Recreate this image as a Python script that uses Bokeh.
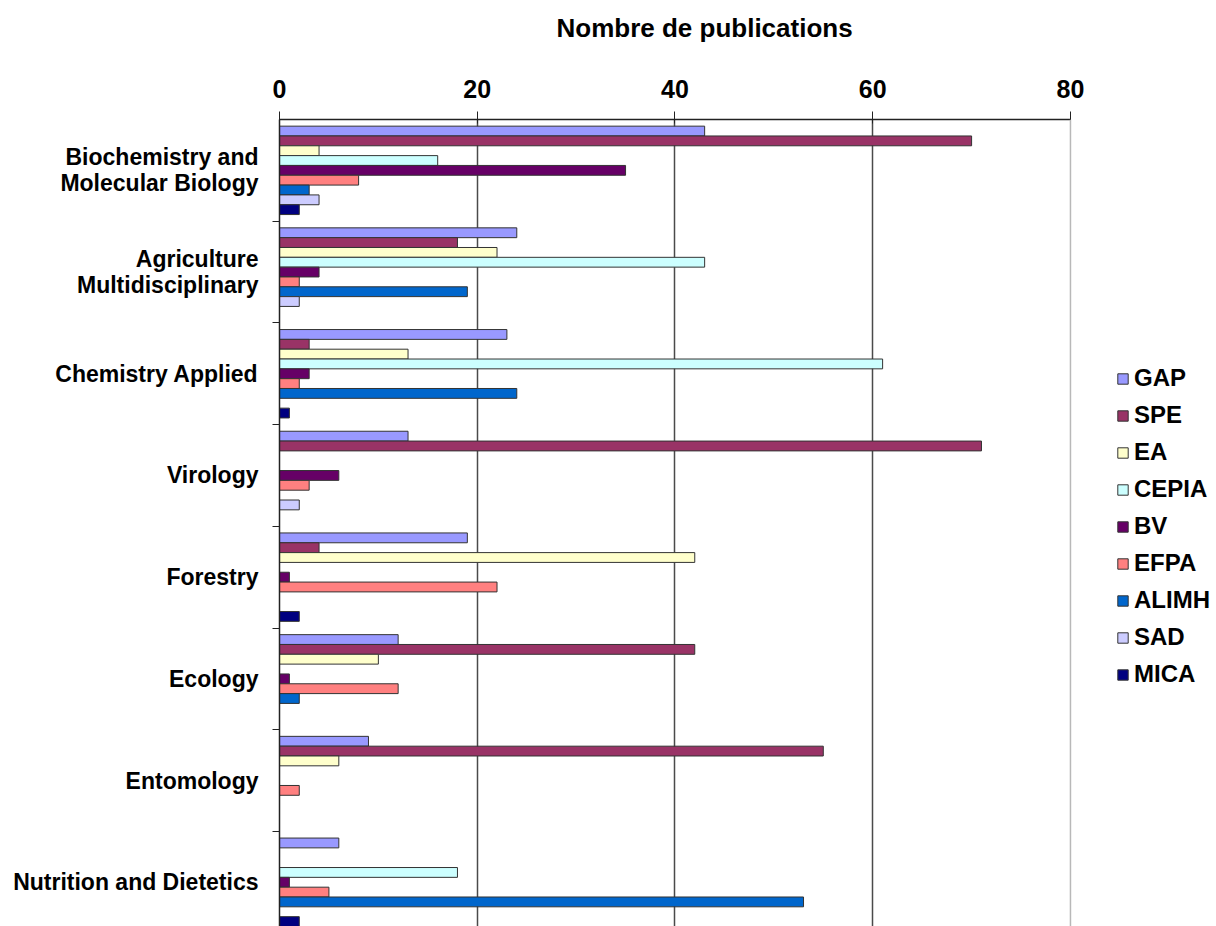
from bokeh.plotting import figure
from bokeh.models import ColumnDataSource, Range1d, FixedTicker, Span, Legend, LegendItem
from bokeh.embed import file_html
from bokeh.resources import INLINE

categories = ["Biochemistry and\nMolecular Biology", "Agriculture\nMultidisciplinary",
              "Chemistry Applied", "Virology", "Forestry", "Ecology", "Entomology",
              "Nutrition and Dietetics"]
series = ["GAP", "SPE", "EA", "CEPIA", "BV", "EFPA", "ALIMH", "SAD", "MICA"]
colors = ["#9999FF", "#993366", "#FFFFCC", "#CCFFFF", "#660066", "#FF8080",
          "#0066CC", "#CCCCFF", "#000080"]
title_text = "Nombre de publications"

GAP = [43, 24, 23, 13, 19, 12, 9, 6]
SPE = [70, 18, 3, 71, 4, 42, 55, 0]
EA = [4, 22, 13, 0, 42, 10, 6, 0]
CEPIA = [16, 43, 61, 0, 0, 0, 0, 18]
BV = [35, 4, 3, 6, 1, 1, 0, 1]
EFPA = [8, 2, 2, 3, 22, 12, 2, 5]
ALIMH = [3, 19, 24, 0, 0, 2, 0, 53]
SAD = [4, 2, 0, 2, 0, 0, 0, 0]
MICA = [2, 0, 1, 0, 2, 0, 0, 2]
values = [GAP, SPE, EA, CEPIA, BV, EFPA, ALIMH, SAD, MICA]

FONT = "Liberation Sans"
n_cat = len(categories)
n_ser = len(series)
bar_h = 0.0966
pad = (1 - n_ser * bar_h) / 2

W, H = 1216, 926
LEFT, TOP = 279, 119

p = figure(width=W, height=H, output_backend="svg", toolbar_location=None,
           x_range=Range1d(0, 94.77), y_range=Range1d(7.935, 0),
           x_axis_location="above", min_border_left=LEFT, min_border_right=0,
           min_border_top=TOP, min_border_bottom=0)
p.outline_line_color = None
p.background_fill_color = "white"
p.border_fill_color = "white"

items = []
for j, (name, vals, col) in enumerate(zip(series, values, colors)):
    ys = [i + pad + (j + 0.5) * bar_h for i in range(n_cat)]
    src = ColumnDataSource(dict(y=ys, v=vals))
    r = p.hbar(y="y", right="v", left=0, height=bar_h, source=src,
               fill_color=col, line_color="#333333", line_width=1)
    items.append(LegendItem(label=name, renderers=[r]))

# grid
p.xgrid.ticker = FixedTicker(ticks=[20, 40, 60])
p.xgrid.grid_line_color = "#4a4a4a"
p.xgrid.grid_line_width = 1.5
p.ygrid.grid_line_color = None
p.add_layout(Span(location=80, dimension="height", line_color="#b8b8b8", line_width=1.5))

# top axis
xa = p.xaxis[0]
xa.ticker = FixedTicker(ticks=[0, 20, 40, 60, 80])
xa.bounds = (0, 80)
xa.axis_line_color = "#222222"
xa.axis_line_width = 1.5
xa.major_tick_out = 8
xa.major_tick_in = 4
xa.major_tick_line_color = "#222222"
xa.minor_tick_line_color = None
xa.major_label_standoff = 14
xa.major_label_text_font = FONT
xa.major_label_text_font_style = "bold"
xa.major_label_text_font_size = "25px"
xa.major_label_text_color = "black"
# blank axis label used only as vertical spacing between ticks and title
xa.axis_label = " "
xa.axis_label_text_font_size = "12px"
xa.axis_label_standoff = 3

# left axis
ya = p.yaxis[0]
centers = [i + 0.5 for i in range(n_cat)]
ya.ticker = FixedTicker(ticks=centers, minor_ticks=list(range(1, n_cat)))
ya.major_label_overrides = {c: lab for c, lab in zip(centers, categories)}
ya.major_tick_out = 0
ya.major_tick_in = 0
ya.minor_tick_out = 7
ya.minor_tick_in = 0
ya.minor_tick_line_color = "#222222"
ya.axis_line_color = "#222222"
ya.axis_line_width = 1.5
ya.major_label_standoff = 14
ya.major_label_text_font = FONT
ya.major_label_text_font_style = "bold"
ya.major_label_text_font_size = "23px"
ya.major_label_text_line_height = 1.0
ya.major_label_text_align = "center"
ya.major_label_text_color = "black"

# title
p.title.text = title_text
p.title.text_font = FONT
p.title.text_font_style = "bold"
p.title.text_font_size = "26px"
p.title.text_color = "black"
p.title.align = "left"
p.title.offset = 556 - LEFT
p.title.vertical_align = "top"
p.title.standoff = 24

legend = Legend(items=items, location=(837, 238))
legend.label_text_font = FONT
legend.label_text_font_style = "bold"
legend.label_text_font_size = "24px"
legend.label_text_color = "black"
legend.glyph_width = 13
legend.glyph_height = 13
legend.label_standoff = 5
legend.spacing = 9
legend.padding = 0
legend.margin = 0
legend.border_line_color = None
legend.background_fill_alpha = 0
p.add_layout(legend, "center")

open("out.html", "w").write(file_html(p, INLINE))
